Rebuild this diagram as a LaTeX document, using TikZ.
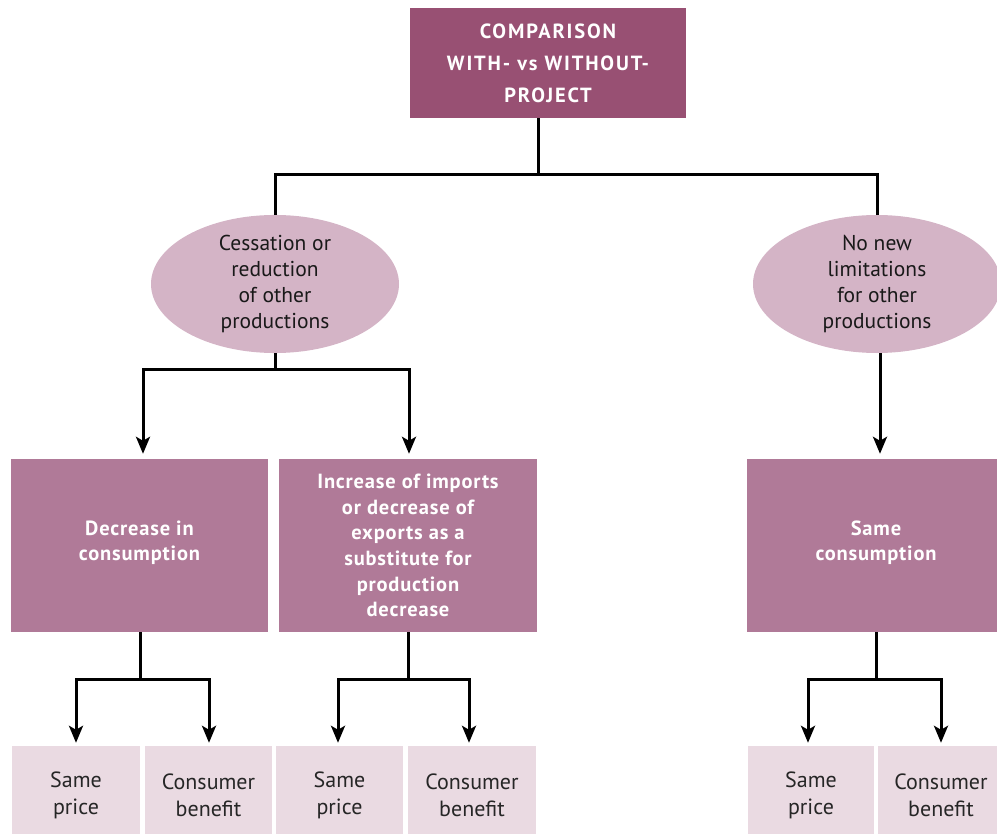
\documentclass[tikz,border=0pt]{standalone}
\usepackage{fontspec}
\setmainfont{PT Sans}
\usetikzlibrary{shapes.geometric,arrows.meta}
\definecolor{rootfill}{HTML}{985073}
\definecolor{effectfill}{HTML}{B07A98}
\definecolor{casefill}{HTML}{D4B4C6}
\definecolor{leaffill}{HTML}{EADAE2}
\begin{document}
\begin{tikzpicture}[x=1pt,y=-1pt,
    rootbox/.style={fill=rootfill, text=white, align=center, inner sep=0pt,
      minimum width=276pt, minimum height=110pt,
      font=\fontsize{20.5}{32}\selectfont\bfseries\addfontfeatures{LetterSpace=9}},
    casenode/.style={ellipse, fill=casefill, text=black!90, align=center, inner sep=0pt,
      minimum width=248pt, minimum height=132pt, font=\fontsize{21.5}{26}\selectfont},
    effectbox/.style={fill=effectfill, text=white, align=center, inner sep=0pt,
      minimum width=257pt, minimum height=173pt,
      font=\fontsize{20.5}{25.6}\selectfont\bfseries\addfontfeatures{LetterSpace=4}},
    leafbox/.style={fill=leaffill, text=black!85, align=center, inner sep=0pt,
      minimum width=127pt, minimum height=98pt, font=\fontsize{22}{27}\selectfont},
    link/.style={line width=3pt},
    arr/.style={link, -{Stealth[length=17pt,width=14pt,inset=4pt]}, shorten >=5pt}]
  \clip (0,0) rectangle (997,834);
  % nodes
  \node[rootbox] (root) at (548,63) {COMPARISON\\WITH- vs WITHOUT-\\PROJECT};
  \node[casenode] (cut) at (275,284) {Cessation or\\reduction\\of other\\productions};
  \node[casenode] (nolimit) at (877,284) {No new\\limitations\\for other\\productions};
  \node[effectbox] (lesscons) at (139.5,545.5) {Decrease in\\consumption\\[-16pt]\mbox{}};
  \node[effectbox, minimum width=258pt] (imports) at (408,545.5)
    {Increase of imports\\or decrease of\\exports as a\\substitute for\\production\\decrease};
  \node[effectbox, minimum width=258pt] (samecons) at (876,545.5) {Same\\consumption\\[-16pt]\mbox{}};
  \node[leafbox, minimum width=128pt] (price1) at (76,795) {Same\\price};
  \node[leafbox] (benefit1) at (208.5,795) {Consumer\\benefit};
  \node[leafbox] (price2) at (339.5,795) {Same\\price};
  \node[leafbox, minimum width=128pt] (benefit2) at (472,795) {Consumer\\benefit};
  \node[leafbox, minimum width=126pt] (price3) at (811,795) {Same\\price};
  \node[leafbox, minimum width=126pt] (benefit3) at (941,795) {Consumer\\benefit};
  % junctions
  \coordinate (j0) at (538,175);
  \coordinate (j1) at (275,370);
  \coordinate (j11) at (140,679);
  \coordinate (j21) at (408,679);
  \coordinate (j31) at (876,679);
  % connectors
  \draw[link] (j0 |- root.south) -- (j0);
  \draw[link] (j0) -| (cut.north);
  \draw[link] (j0) -| (nolimit.north);
  \draw[link] (cut.south) -- (j1);
  \draw[arr] (j1) -| ([xshift=3.5pt]lesscons.north);
  \draw[arr] (j1) -| ([xshift=1pt]imports.north);
  \draw[arr] ([xshift=3pt]nolimit.south) -- ([xshift=3pt]nolimit.south |- samecons.north);
  \begin{scope}[arr/.append style={shorten >=3pt}]
    \draw[link] (j11 |- lesscons.south) -- (j11);
    \draw[arr] (j11) -| (price1.north);
    \draw[arr] (j11) -| ([xshift=0.5pt]benefit1.north);
    \draw[link] (imports.south) -- (j21);
    \draw[arr] (j21) -| ([xshift=-1.5pt]price2.north);
    \draw[arr] (j21) -| ([xshift=-3pt]benefit2.north);
    \draw[link] (samecons.south) -- (j31);
    \draw[arr] (j31) -| ([xshift=-3pt]price3.north);
    \draw[arr] (j31) -| (benefit3.north);
  \end{scope}
\end{tikzpicture}
\end{document}
